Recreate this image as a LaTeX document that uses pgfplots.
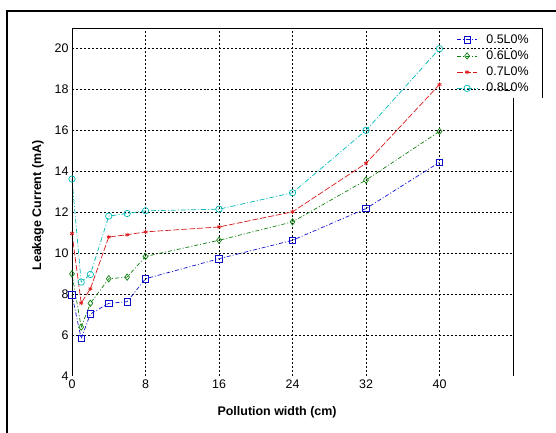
\documentclass[border=0pt]{standalone}
\usepackage{pgfplots}
\pgfplotsset{compat=1.18}
\usepackage{fontspec}
\setmainfont{Liberation Sans}
\definecolor{cblue}{rgb}{0.05,0.05,0.8}
\definecolor{cgreen}{rgb}{0.05,0.5,0.05}
\definecolor{cred}{rgb}{0.85,0.1,0.1}
\definecolor{ccyan}{rgb}{0.0,0.72,0.72}
\begin{document}
\begin{tikzpicture}
\useasboundingbox (0,0) rectangle (556bp,433bp);
\draw[line width=1.3pt] (7bp,0) -- (7bp,422bp) -- (556bp,422bp);
\begin{axis}[
  scale only axis, width=441bp, height=348bp,
  at={(72bp,57bp)}, anchor=south west,
  xmin=0, xmax=48, ymin=4, ymax=21,
  xtick={0,8,16,24,32,40},
  ytick={6,8,...,20},
  extra y ticks={4}, extra y tick style={grid=none},
  grid=major,
  major grid style={black, line width=0.7pt, dash pattern=on 2pt off 2pt},
  major tick length=0pt,
  axis line style={draw=none},
  clip=false,
  /pgf/number format/assume math mode=true,
  ticklabel style={font=\fontsize{12.5}{13}\selectfont},
  xlabel={Pollution width (cm)},
  ylabel={Leakage Current (mA)},
  label style={font=\bfseries\fontsize{12.5}{13}\selectfont},
  xlabel style={at={(axis description cs:0.465,-0.103)}, anchor=center},
  ylabel style={at={(axis description cs:-0.077,0.49)}, anchor=center},
  legend cell align=left,
  legend image code/.code={\draw[mark repeat=2,mark phase=2,#1] plot coordinates {(0bp,0bp)(10bp,0bp)(20bp,0bp)}; \path (28bp,0bp);},
  legend style={at={(axis description cs:1.045,0.99)}, anchor=north east,
    draw=none, fill=none, font=\fontsize{12.5}{14}\selectfont,
    nodes={inner sep=1bp}, row sep=4bp},
]
\addplot[cblue, line width=0.7pt, dash pattern=on 4pt off 2pt on 1pt off 2pt, mark=square, mark size=3.2bp, mark options={solid}]
 coordinates {(0,7.96) (1,5.83) (2,7.03) (4,7.55) (6,7.63) (8,8.75) (16,9.73) (24,10.63) (32,12.18) (40,14.44)};
\addlegendentry{0.5L0\%}
\addplot[cgreen, line width=0.7pt, dash pattern=on 4pt off 2pt on 1pt off 2pt, mark=diamond, mark size=3.2bp, mark options={solid}]
 coordinates {(0,8.99) (1,6.39) (2,7.55) (4,8.75) (6,8.83) (8,9.84) (16,10.63) (24,11.53) (32,13.57) (40,15.95)};
\addlegendentry{0.6L0\%}
\addplot[cred, line width=0.7pt, dash pattern=on 6pt off 2pt, mark=asterisk, mark size=2.2bp, mark options={solid}]
 coordinates {(0,10.96) (1,7.56) (2,8.26) (4,10.79) (6,10.9) (8,11.04) (16,11.28) (24,12.02) (32,14.39) (40,18.24)};
\addlegendentry{0.7L0\%}
\addplot[ccyan, line width=0.7pt, dash pattern=on 5pt off 2pt on 1pt off 2pt, mark=o, mark size=3.2bp, mark options={solid}]
 coordinates {(0,13.62) (1,8.59) (2,8.96) (4,11.81) (6,11.94) (8,12.07) (16,12.15) (24,12.95) (32,16.0) (40,19.99)};
\addlegendentry{0.8L0\%}
\draw[black, line width=0.8pt] (rel axis cs:0,0) -- (rel axis cs:0,1) -- (rel axis cs:1.0658,1) -- (rel axis cs:1.0658,0.799);
\draw[black, line width=0.8pt] (rel axis cs:1,0.799) -- (rel axis cs:1,0);
\end{axis}
\end{tikzpicture}
\end{document}
